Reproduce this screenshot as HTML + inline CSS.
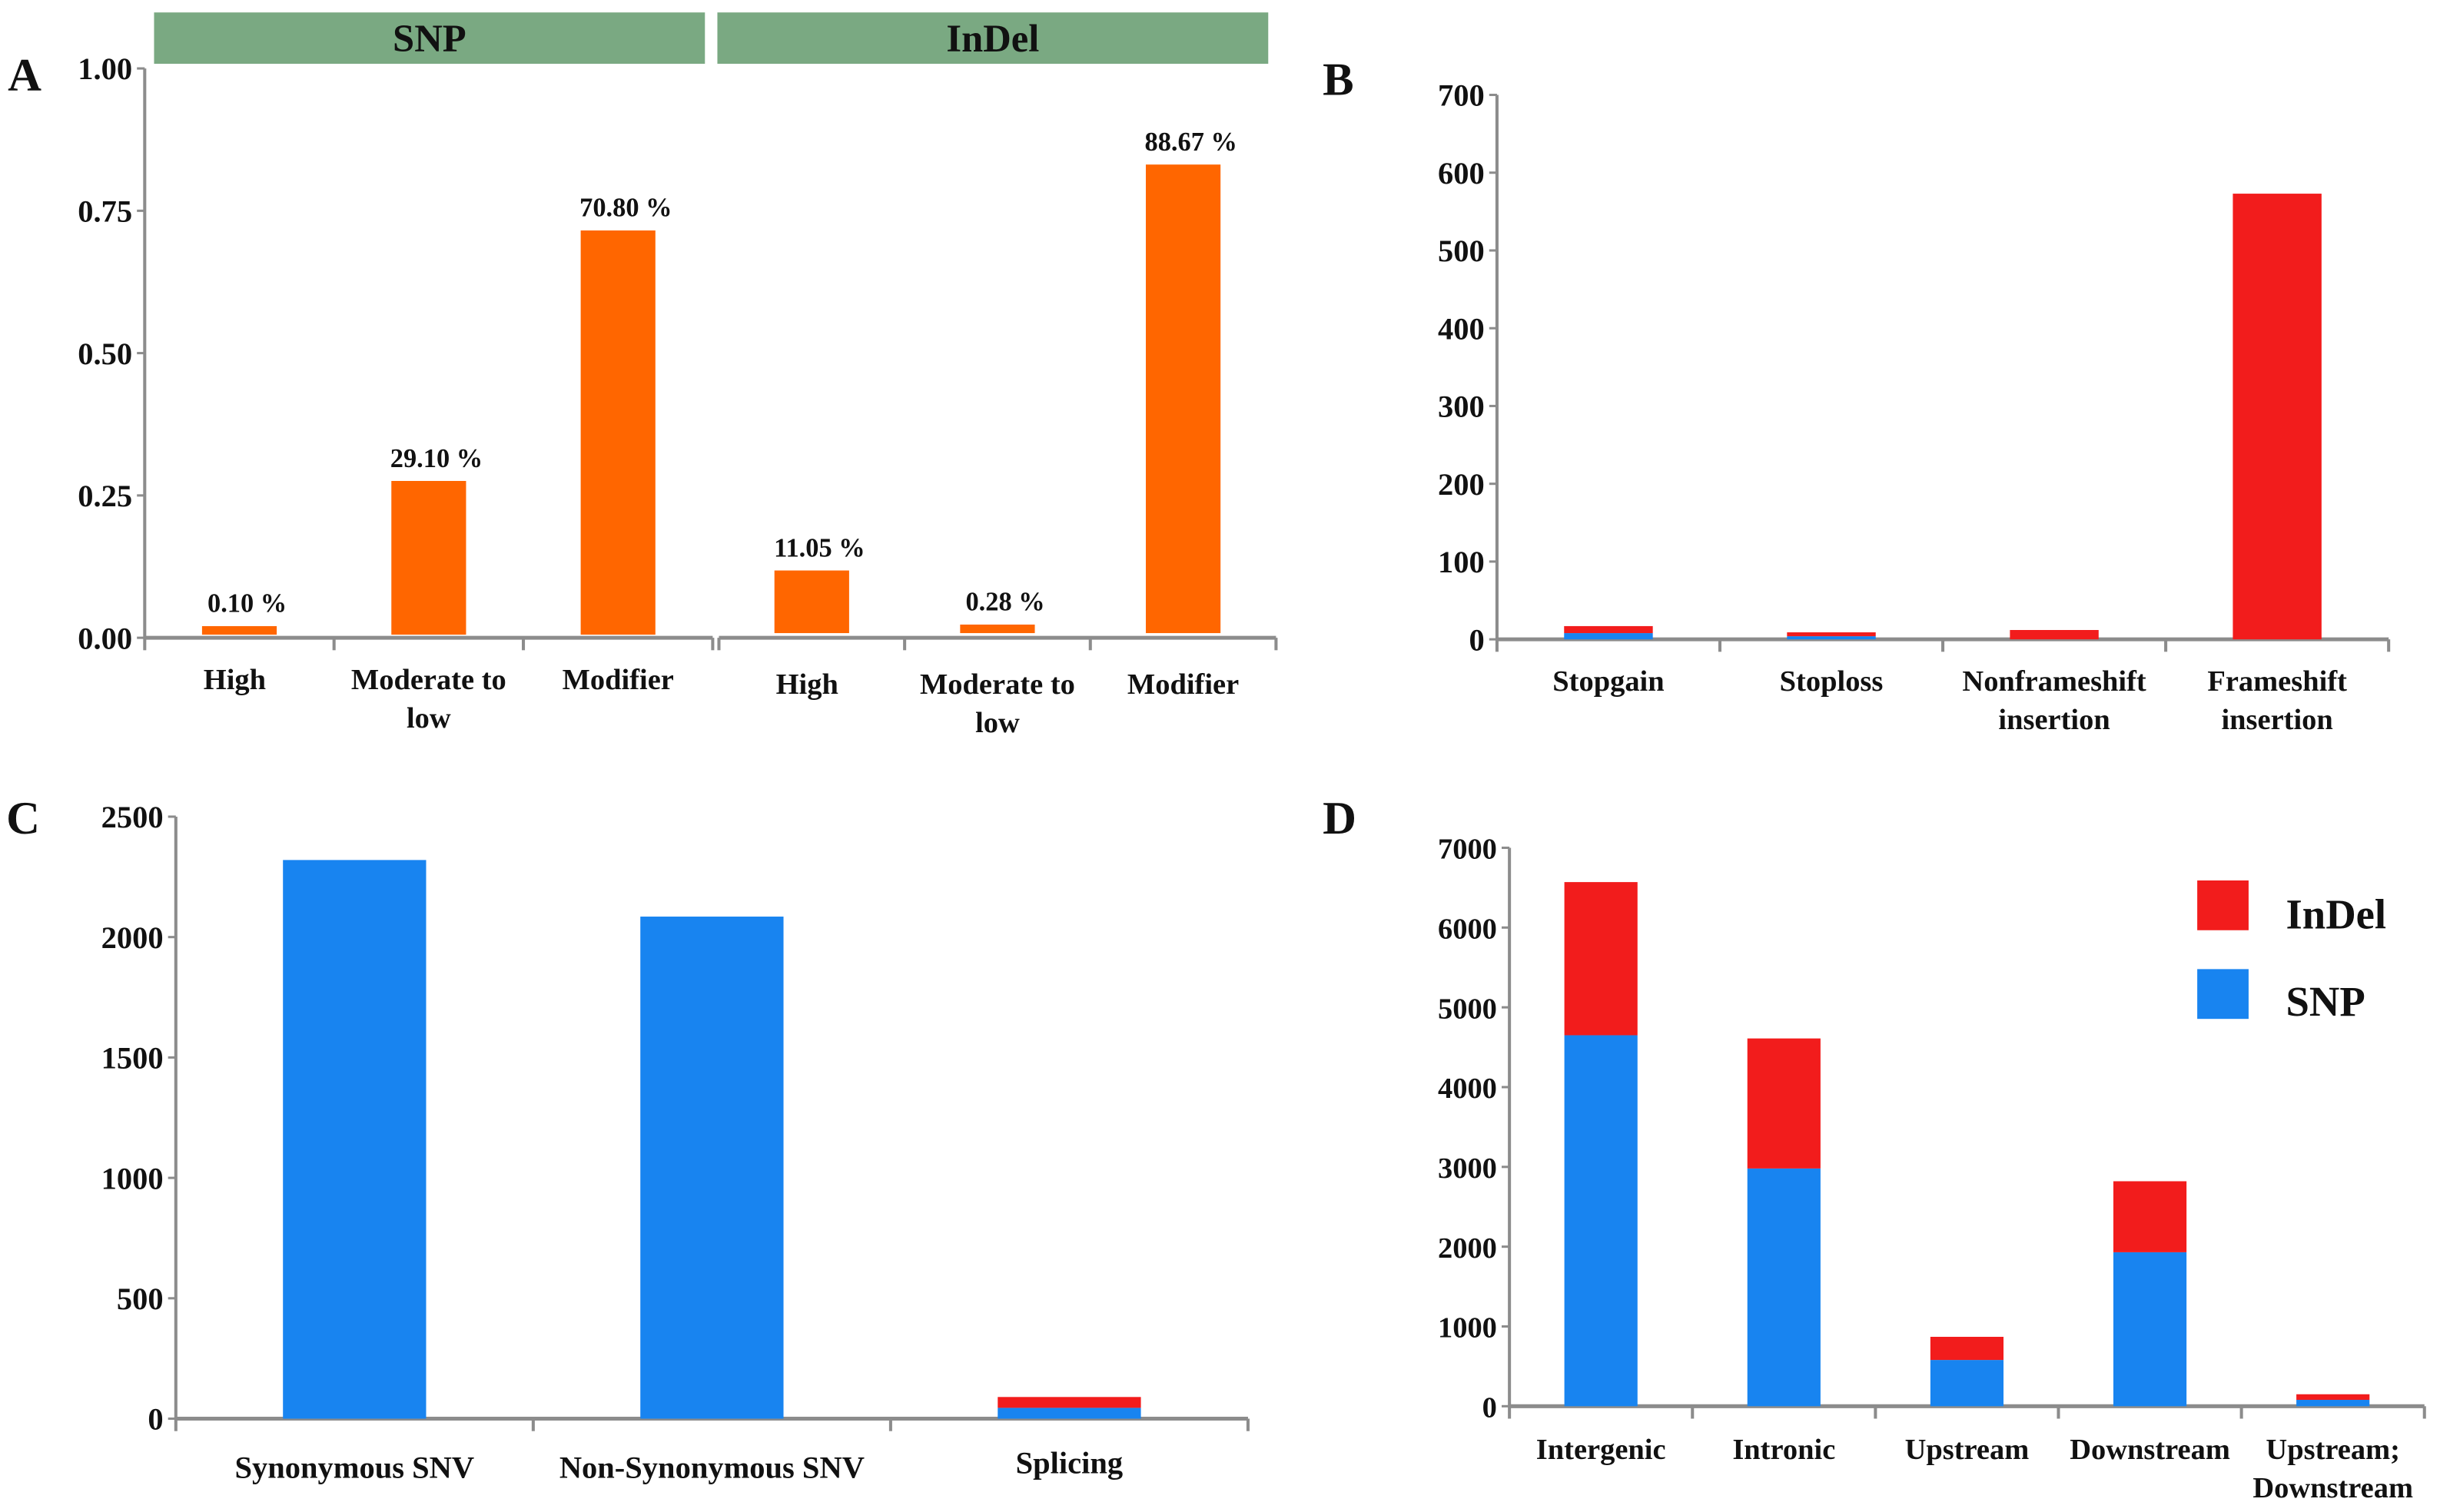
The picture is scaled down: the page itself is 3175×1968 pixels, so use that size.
<!DOCTYPE html>
<html><head><meta charset="utf-8"><style>
html,body{margin:0;padding:0;background:#fff;}
svg{display:block;font-family:"Liberation Serif","Times New Roman",serif;}
text{font-family:"Liberation Serif","Times New Roman",serif;font-weight:bold;fill:#111;}
</style></head><body>
<svg id="fig" width="3175" height="1968" viewBox="0 0 1568 972" preserveAspectRatio="none" xmlns="http://www.w3.org/2000/svg" font-family="Liberation Serif, serif" font-weight="bold">
<rect x="0" y="0" width="1568" height="972" fill="#fff"/>
<g id="gA"></g>
<g id="gB"></g>
<g id="gC"></g>
<g id="gD"></g>
</svg>
<script>
// Panel A data
const aCategories = ["High", "Moderate to|low", "Modifier", "High", "Moderate to|low", "Modifier"];
const aValues = [0.015, 0.27, 0.71, 0.11, 0.015, 0.823];
const aLabels = ["0.10 %", "29.10 %", "70.80 %", "11.05 %", "0.28 %", "88.67 %"];
const aTicks = ["0.00", "0.25", "0.50", "0.75", "1.00"];
const aGroups = ["SNP", "InDel"];
// Panel B data
const bCategories = ["Stopgain", "Stoploss", "Nonframeshift|insertion", "Frameshift|insertion"];
const bSnp = [8, 4, 0, 0];
const bIndel = [9, 5, 12, 573];
const bTicks = [0, 100, 200, 300, 400, 500, 600, 700];
// Panel C data
const cCategories = ["Synonymous SNV", "Non-Synonymous SNV", "Splicing"];
const cSnp = [2320, 2085, 45];
const cIndel = [0, 0, 45];
const cTicks = [0, 500, 1000, 1500, 2000, 2500];
// Panel D data
const dCategories = ["Intergenic", "Intronic", "Upstream", "Downstream", "Upstream;|Downstream"];
const dSnp = [4650, 2980, 580, 1930, 80];
const dIndel = [1920, 1630, 290, 890, 70];
const dTicks = [0, 1000, 2000, 3000, 4000, 5000, 6000, 7000];
const dLegend = ["InDel", "SNP"];

const NS = "http://www.w3.org/2000/svg";
const RED = "#f21c1c", BLUE = "#1884f0", ORANGE = "#ff6600", AX = "#8c8c8c";
const FF = "Liberation Serif, Times New Roman, serif";
function mk(parent, tag, attrs, txt) {
  const e = document.createElementNS(NS, tag);
  for (const k in attrs) e.setAttribute(k, attrs[k]);
  if (tag === "text") { e.setAttribute("font-family", FF); e.setAttribute("font-weight", "bold"); }
  if (txt !== undefined) e.textContent = txt;
  parent.appendChild(e);
  return e;
}
function label(g, x, y, str, size, anchor) {
  const lines = str.split("|");
  lines.forEach((ln, i) => {
    const t = mk(g, "text", {x: x, y: y + i * size * 1.3, "font-size": size, "text-anchor": anchor || "middle"}, ln);
    
    
  });
}
function yAxis(g, x0, y0, y1, ticks, max, fmtSize) {
  const ys = v => y0 - (v / max) * (y0 - y1);
  const l = mk(g, "line", {x1: x0, y1: y0, x2: x0, y2: y1, stroke: AX, "stroke-width": 2});
  
  
  ticks.forEach(tv => {
    const v = parseFloat(tv);
    mk(g, "line", {x1: x0 - 5, y1: ys(v), x2: x0, y2: ys(v), stroke: AX, "stroke-width": 1.5});
    const t = mk(g, "text", {x: x0 - 8, y: ys(v) + 7, "font-size": fmtSize, "text-anchor": "end"}, String(tv));
    
    
  });
  return ys;
}
function xAxis(g, x0, x1, y, n) {
  const l = mk(g, "line", {x1: x0, y1: y, x2: x1, y2: y, stroke: AX, "stroke-width": 2.5});
  
  
  const w = (x1 - x0) / n;
  for (let i = 0; i <= n; i++) mk(g, "line", {x1: x0 + i * w, y1: y, x2: x0 + i * w, y2: y + 8, stroke: AX, "stroke-width": 2});
  return i => x0 + (i + 0.5) * w;
}
function stacked(g, xc, bw, ys, snp, indel, name) {
  if (snp > 0) {
    const r1 = mk(g, "rect", {x: xc - bw / 2, y: ys(snp), width: bw, height: ys(0) - ys(snp), fill: BLUE});
    
    
  }
  if (indel > 0) {
    const r2 = mk(g, "rect", {x: xc - bw / 2, y: ys(snp + indel), width: bw, height: ys(snp) - ys(snp + indel), fill: RED});
    
    
  }
}
function letter(g, x, y, s) {
  const t = mk(g, "text", {x: x, y: y, "font-size": 30, "text-anchor": "start"}, s);
  
  
}

// ---- Panel A
(function () {
  const g = document.getElementById("gA");
  letter(g, 5, 58, "A");
  const ys = yAxis(g, 93, 410, 44, aTicks, 1.0, 20);
  const hdrs = [[99, 453], [461, 815]];
  aGroups.forEach((nm, i) => {
    const r = mk(g, "rect", {x: hdrs[i][0], y: 8, width: hdrs[i][1] - hdrs[i][0], height: 33, fill: "#7aa982"});
    
    
    const t = mk(g, "text", {x: (hdrs[i][0] + hdrs[i][1]) / 2, y: 33, "font-size": 25, "text-anchor": "middle"}, nm);
    
    
  });
  const xa = xAxis(g, 93, 458, 410, 3);
  const xb = xAxis(g, 462, 820, 410, 3);
  aCategories.forEach((c, i) => {
    const xc = i < 3 ? xa(i) : xb(i - 3);
    const base = i < 3 ? 408 : 407;
    const h = aValues[i] * (410 - 44);
    const r = mk(g, "rect", {x: xc - 24, y: base - h, width: 48, height: h, fill: ORANGE});
    
    
    const t = mk(g, "text", {x: xc + 5, y: base - h - 9, "font-size": 17, "text-anchor": "middle"}, aLabels[i]);
    
    
    label(g, xc - (i % 3 === 0 ? 3 : 0), i < 3 ? 443 : 446, c, 19);
  });
})();

// ---- Panel B
(function () {
  const g = document.getElementById("gB");
  letter(g, 850, 61, "B");
  const ys = yAxis(g, 962, 411, 61, bTicks, 700, 20);
  const xp = xAxis(g, 962, 1535, 411, 4);
  bCategories.forEach((c, i) => {
    stacked(g, xp(i), 57, ys, bSnp[i], bIndel[i], 'bar-' + i);
    label(g, xp(i), 444, c, 19);
  });
})();

// ---- Panel C
(function () {
  const g = document.getElementById("gC");
  letter(g, 4, 536, "C");
  const ys = yAxis(g, 113, 912, 525, cTicks, 2500, 20);
  const xp = xAxis(g, 113, 802, 912, 3);
  cCategories.forEach((c, i) => {
    stacked(g, xp(i), 92, ys, cSnp[i], cIndel[i], 'bar-' + i);
    label(g, xp(i), i === 2 ? 947 : 950, c, 20);
  });
})();

// ---- Panel D
(function () {
  const g = document.getElementById("gD");
  letter(g, 850, 536, "D");
  const ys = yAxis(g, 970, 904, 545, dTicks, 7000, 19);
  const xp = xAxis(g, 970, 1558, 904, 5);
  dCategories.forEach((c, i) => {
    stacked(g, xp(i), 47, ys, dSnp[i], dIndel[i], 'bar-' + i);
    label(g, xp(i), 938, c, 19);
  });
  const cols = [RED, BLUE];
  dLegend.forEach((nm, i) => {
    const r = mk(g, "rect", {x: 1412, y: 566 + i * 57, width: 33, height: 32, fill: cols[i]});
    
    
    const t = mk(g, "text", {x: 1469, y: 597 + i * 56, "font-size": 27, "text-anchor": "start"}, nm);
    
    
  });
})();
</script>
</body></html>
